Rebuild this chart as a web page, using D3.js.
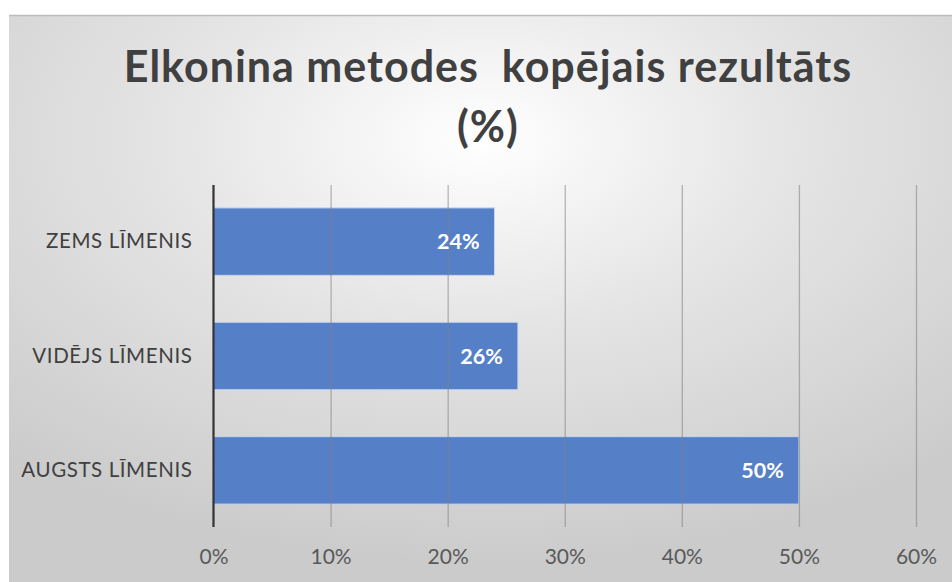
<!DOCTYPE html>
<html><head><meta charset="utf-8">
<script src="https://cdn.jsdelivr.net/npm/d3@7"></script>
<style>
html,body{margin:0;padding:0;background:#fff;}
svg{display:block;}
</style></head>
<body>
<svg id="chart" width="952" height="582"></svg>
<script>
const titleLines = ["Elkonina metodes  kopējais rezultāts", "(%)"];
const categories = ["ZEMS LĪMENIS", "VIDĒJS LĪMENIS", "AUGSTS LĪMENIS"];
const values = [0.24, 0.26, 0.50];
const tickValues = [0, 0.1, 0.2, 0.3, 0.4, 0.5, 0.6];

const svg = d3.select("#chart");
const W = 952, H = 582;
const fontFamily = "Lato, 'Open Sans', sans-serif";

const defs = svg.append("defs");
const grad = defs.append("radialGradient").attr("id","bg")
  .attr("cx","50%").attr("cy","22%").attr("r","75%").attr("fx","50%").attr("fy","22%");
grad.append("stop").attr("offset","0%").attr("stop-color","#ffffff");
grad.append("stop").attr("offset","45%").attr("stop-color","#e4e4e4");
grad.append("stop").attr("offset","100%").attr("stop-color","#cbcbcb");

const frame = {x:9, y:15, w:W-9, h:H-15};
svg.append("rect").attr("x",frame.x).attr("y",frame.y).attr("width",frame.w).attr("height",frame.h)
  .attr("fill","url(#bg)");
svg.append("line").attr("x1",frame.x).attr("x2",W).attr("y1",frame.y+0.5).attr("y2",frame.y+0.5)
  .attr("stroke","#bdbdbd").attr("stroke-width",1.5);

const margin = {left:213.5, right:36, top:185, bottom:55};
const x = d3.scaleLinear().domain([0,0.6]).range([margin.left, W - margin.right]);
const y = d3.scaleBand().domain(categories).range([margin.top, H - margin.bottom]).paddingInner(0.41).paddingOuter(0.2);

// title
const title = svg.append("text").attr("text-anchor","middle")
  .attr("font-family", fontFamily).attr("font-weight","bold").attr("font-size",43)
  .attr("letter-spacing",1)
  .attr("fill","#404040").style("white-space","pre");
titleLines.forEach((t,i)=>{
  title.append("tspan").attr("x",488).attr("y", 82 + i*60).text(t);
});

// bars
svg.append("g").selectAll("rect").data(values).join("rect")
  .attr("x", x(0))
  .attr("y", (d,i)=>y(categories[i]))
  .attr("width", d=>x(d)-x(0))
  .attr("height", y.bandwidth())
  .attr("fill","#5580c8")
  .attr("stroke","#c9d6ee").attr("stroke-width",1);

// gridlines (drawn above bars faintly)
const xAxis = d3.axisBottom(x).tickValues(tickValues).tickFormat(d3.format(".0%")).tickSize(-(H - margin.bottom - margin.top)).tickPadding(22);
const gx = svg.append("g").attr("transform",`translate(0,${H - margin.bottom})`).call(xAxis);
gx.select(".domain").remove();
gx.selectAll(".tick line").attr("stroke","#808080").attr("stroke-opacity",0.55).attr("stroke-width",1.3);
gx.selectAll(".tick text").attr("font-family",fontFamily).attr("font-size",21).attr("fill","#595959");
gx.selectAll(".tick").filter(d=>d===0).select("line").remove();

// y axis
const yAxis = d3.axisLeft(y).tickSize(0).tickPadding(21);
const gy = svg.append("g").attr("transform",`translate(${x(0)},0)`).call(yAxis);
gy.select(".domain").remove();
gy.selectAll(".tick text").attr("font-family",fontFamily).attr("font-size",20.5).attr("letter-spacing",0.6).attr("fill","#404040");
svg.append("line").attr("x1",x(0)).attr("x2",x(0)).attr("y1",margin.top).attr("y2",H - margin.bottom)
  .attr("stroke","#333").attr("stroke-width",2.2);

// data labels
svg.append("g").selectAll("text").data(values).join("text")
  .attr("x", d=>x(d)-15)
  .attr("y", (d,i)=>y(categories[i]) + y.bandwidth()/2)
  .attr("dy","0.36em")
  .attr("text-anchor","end")
  .attr("font-family",fontFamily).attr("font-weight","bold").attr("font-size",21.5)
  .attr("fill","#ffffff")
  .text(d=>d3.format(".0%")(d));
</script>
</body></html>
